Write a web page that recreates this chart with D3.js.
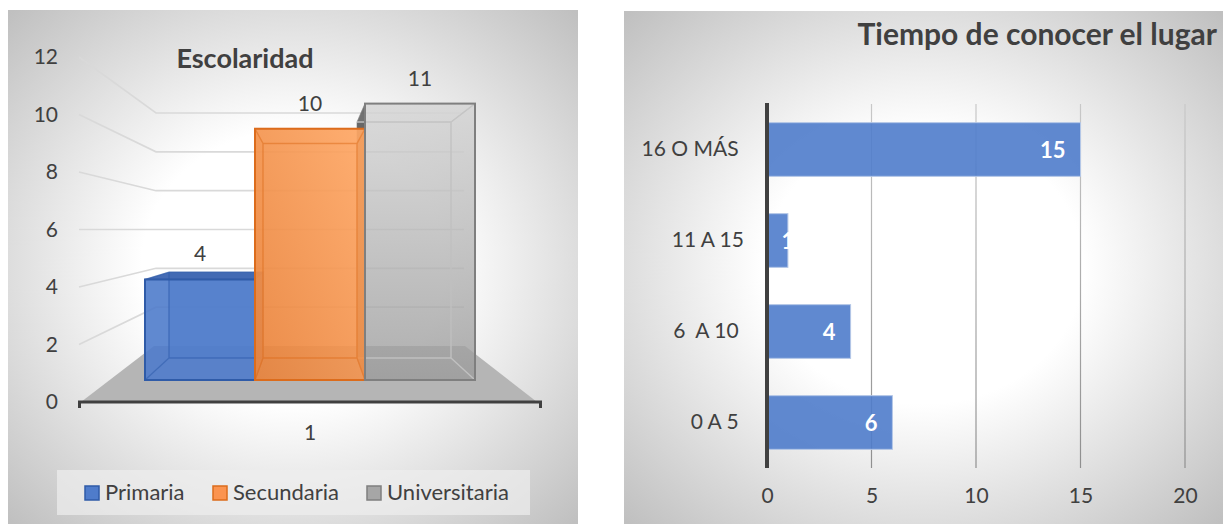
<!DOCTYPE html>
<html>
<head>
<meta charset="utf-8">
<script src="https://cdn.jsdelivr.net/npm/d3@7"></script>
<style>
  html, body { margin: 0; padding: 0; background: #fff; }
  svg { display: block; font-family: Lato, "Open Sans", sans-serif; }
  text { fill: #404040; white-space: pre; }
</style>
</head>
<body>
<div id="chart"></div>
<script>
// datos grafica izquierda
const schoolSeries = ["Primaria", "Secundaria", "Universitaria"];
const schoolValues = [4, 10, 11];
const schoolTicks = [0, 2, 4, 6, 8, 10, 12];
const schoolCategory = "1";

// datos grafica derecha (los espacios finales son del original)
const timeCategories = ["16 O MÁS ", "11 A 15", "6  A 10 ", "0 A 5 "];
const timeValues = [15, 1, 4, 6];
const timeTicks = [0, 5, 10, 15, 20];

const seriesFill = ["#4f7ccb", "#fb9450", "#a6a6a6"];
const seriesStroke = ["#2f5ba8", "#dc6c1c", "#7f7f7f"];
const frontFill = ["#4f7ccb", "url(#orangeFront)", "url(#grayFront)"];
// opacidad de cada cara: fondo, base, lados, tapa, frente
const faceOpacity = [
    { back: 0.75, base: 0.5, side: 0.5, top: 0.95, front: 0.8 },
    { back: 0.6, base: 0.5, side: 0.7, top: 0.6, front: 0.8 },
    { back: 0.2, base: 0.15, side: 0.18, top: 0.15, front: 0.75 }
];

const svg = d3.select("#chart").append("svg")
    .attr("width", 1223)
    .attr("height", 524);

const defs = svg.append("defs");

function panelGradient(id) {
    const g = defs.append("radialGradient").attr("id", id)
        .attr("cx", "50%").attr("cy", "50%").attr("r", "70%");
    g.append("stop").attr("offset", "0%").attr("stop-color", "#ffffff");
    g.append("stop").attr("offset", "38%").attr("stop-color", "#ffffff");
    g.append("stop").attr("offset", "100%").attr("stop-color", "#c0c0c0");
}
panelGradient("panelLeft");
panelGradient("panelRight");

const orangeFront = defs.append("linearGradient").attr("id", "orangeFront")
    .attr("x1", "100%").attr("y1", "0%").attr("x2", "0%").attr("y2", "100%");
orangeFront.append("stop").attr("offset", "0%").attr("stop-color", "#ffaa68");
orangeFront.append("stop").attr("offset", "100%").attr("stop-color", "#e67f36");

const grayFront = defs.append("linearGradient").attr("id", "grayFront")
    .attr("x1", "0%").attr("y1", "0%").attr("x2", "0%").attr("y2", "100%");
grayFront.append("stop").attr("offset", "0%").attr("stop-color", "#d6d6d6");
grayFront.append("stop").attr("offset", "100%").attr("stop-color", "#9a9a9a");

drawSchooling();
drawTime();

function axisText(a) {
    a.select(".domain").remove();
    a.selectAll("text")
        .attr("font-size", 21)
        .attr("font-family", "Lato")
        .attr("fill", "#404040");
}

function drawSchooling() {
    const g = svg.append("g");

    g.append("rect")
        .attr("x", 8).attr("y", 10)
        .attr("width", 570).attr("height", 514)
        .attr("fill", "url(#panelLeft)");

    // escalas: plano frontal y plano del fondo (perspectiva)
    const wallFront = d3.scaleLinear().domain([0, 12]).range([402, 57]);
    const wallBack = d3.scaleLinear().domain([0, 12]).range([346, 113]);
    const barFront = d3.scaleLinear().domain([0, 11]).range([380, 103.6]);
    const barBack = d3.scaleLinear().domain([0, 11]).range([358, 122]);
    const xFront = d3.scaleBand().domain(schoolSeries).range([145, 475]);
    const xBack = d3.scaleBand().domain(schoolSeries).range([169, 451]);

    // piso
    g.append("polygon")
        .attr("points", [[81, wallFront(0)], [154, wallBack(0)], [465, wallBack(0)], [537, wallFront(0)]].join(" "))
        .attr("fill", "#b5b5b5");

    // lineas de pared
    g.append("g").selectAll("path")
        .data(schoolTicks.filter(d => d > 0))
        .join("path")
        .attr("d", d => `M79,${wallFront(d)}L156,${wallBack(d)}L464,${wallBack(d)}`)
        .attr("fill", "none")
        .attr("stroke", "#d9d9d9")
        .attr("stroke-width", 1.6);

    // eje y
    g.append("g")
        .attr("transform", "translate(79,0)")
        .call(d3.axisLeft(wallFront).tickValues(schoolTicks).tickSize(0).tickPadding(21))
        .call(axisText);

    // barras 3d: la gris va antes que la naranja, para que solo asome su lado oscuro
    [0, 2, 1].forEach(i => {
        const name = schoolSeries[i];
        const v = schoolValues[i];
        const o = faceOpacity[i];
        const fx0 = xFront(name), fx1 = fx0 + xFront.bandwidth();
        const bx0 = xBack(name), bx1 = bx0 + xBack.bandwidth();
        const ft = barFront(v), fb = barFront(0);
        const bt = barBack(v), bb = barBack(0);
        const faces = [
            { pts: [[bx0, bt], [bx1, bt], [bx1, bb], [bx0, bb]], o: o.back, c: seriesFill[i] },
            { pts: [[fx0, fb], [bx0, bb], [bx1, bb], [fx1, fb]], o: o.base, c: seriesFill[i] },
            { pts: [[fx0, ft], [bx0, bt], [bx0, bb], [fx0, fb]], o: i === 2 ? 0.9 : o.side, c: i === 2 ? "#595959" : seriesFill[i] },
            { pts: [[fx1, ft], [bx1, bt], [bx1, bb], [fx1, fb]], o: o.side, c: i === 1 ? "#e57f36" : seriesFill[i] },
            { pts: [[fx0, ft], [bx0, bt], [bx1, bt], [fx1, ft]], o: o.top, c: i === 0 ? "#3f67b2" : seriesFill[i] },
            { pts: [[fx0, ft], [fx1, ft], [fx1, fb], [fx0, fb]], o: o.front, c: frontFill[i] }
        ];
        const bar = g.append("g");
        bar.selectAll("polygon")
            .data(faces)
            .join("polygon")
            .attr("points", d => d.pts.join(" "))
            .attr("fill", d => d.c)
            .attr("fill-opacity", d => d.o)
            .attr("stroke", seriesStroke[i])
            .attr("stroke-opacity", 0.35)
            .attr("stroke-width", 1);

        // aristas interiores, visibles a traves del frente (en la gris, solo el lado derecho)
        const leftEdges = `M${fx0},${ft}L${bx0},${bt}M${bx0},${bt}V${bb}M${fx0},${fb}L${bx0},${bb}`;
        const otherEdges = `M${bx0},${bt}H${bx1}L${fx1},${ft}M${bx1},${bt}V${bb}H${bx0}M${fx1},${fb}L${bx1},${bb}`;
        bar.append("path")
            .attr("d", i === 2 ? otherEdges : leftEdges + otherEdges)
            .attr("fill", "none")
            .attr("stroke", i === 2 ? "#c4c4c4" : seriesStroke[i])
            .attr("stroke-opacity", i === 2 ? 0.9 : 0.45)
            .attr("stroke-width", 1.4);
    });

    // contorno frontal de cada barra
    g.append("g").selectAll("rect")
        .data(schoolValues)
        .join("rect")
        .attr("x", (d, i) => xFront(schoolSeries[i]))
        .attr("y", d => barFront(d))
        .attr("width", xFront.bandwidth())
        .attr("height", d => barFront(0) - barFront(d))
        .attr("fill", "none")
        .attr("stroke", (d, i) => seriesStroke[i])
        .attr("stroke-width", 2);

    // etiquetas de datos
    g.append("g").selectAll("text")
        .data(schoolValues)
        .join("text")
        .attr("x", (d, i) => xFront(schoolSeries[i]) + xFront.bandwidth() / 2)
        .attr("y", d => barFront(d) - 18)
        .attr("text-anchor", "middle")
        .attr("font-size", 21)
        .text(d => d);

    // eje x
    g.append("path")
        .attr("d", `M79.5,408V${wallFront(0)}H540.5V408`)
        .attr("fill", "none")
        .attr("stroke", "#404040")
        .attr("stroke-width", 3);
    g.append("text")
        .attr("x", 310).attr("y", 440)
        .attr("text-anchor", "middle")
        .attr("font-size", 21)
        .text(schoolCategory);

    g.append("text")
        .attr("x", 245).attr("y", 68)
        .attr("text-anchor", "middle")
        .attr("font-size", 27)
        .attr("font-weight", "bold")
        .text("Escolaridad");

    // leyenda
    g.append("rect")
        .attr("x", 57).attr("y", 470)
        .attr("width", 473).attr("height", 45)
        .attr("fill", "#eeeeee")
        .attr("fill-opacity", 0.7);
    const legendX = d3.scaleOrdinal().domain(schoolSeries).range([85, 213, 367]);
    const item = g.append("g").selectAll("g")
        .data(schoolSeries)
        .join("g")
        .attr("transform", d => `translate(${legendX(d)},486)`);
    item.append("rect")
        .attr("width", 14).attr("height", 14)
        .attr("fill", (d, i) => seriesFill[i])
        .attr("stroke", (d, i) => seriesStroke[i])
        .attr("stroke-width", 1.5);
    item.append("text")
        .attr("x", 20).attr("y", 14)
        .attr("font-size", 22)
        .text(d => d);
}

function drawTime() {
    const g = svg.append("g");

    g.append("rect")
        .attr("x", 624).attr("y", 11)
        .attr("width", 599).attr("height", 513)
        .attr("fill", "url(#panelRight)");

    const x = d3.scaleLinear().domain([0, 20]).range([767, 1185]);
    const y = d3.scaleBand().domain(timeCategories).range([104, 468])
        .paddingInner(0.41).paddingOuter(0.205);

    const grid = defs.append("linearGradient").attr("id", "gridFade")
        .attr("gradientUnits", "userSpaceOnUse")
        .attr("x1", 0).attr("y1", 104).attr("x2", 0).attr("y2", 468);
    grid.append("stop").attr("offset", "0%").attr("stop-color", "#c8c8c8");
    grid.append("stop").attr("offset", "100%").attr("stop-color", "#8f8f8f");

    // rejilla
    g.append("g").selectAll("line")
        .data(timeTicks.filter(d => d > 0))
        .join("line")
        .attr("x1", d => x(d)).attr("x2", d => x(d))
        .attr("y1", 104).attr("y2", 468)
        .attr("stroke", "url(#gridFade)")
        .attr("stroke-width", 1.2);

    // barras
    g.append("g").selectAll("rect")
        .data(timeValues)
        .join("rect")
        .attr("x", x(0))
        .attr("y", (d, i) => y(timeCategories[i]))
        .attr("width", d => x(d) - x(0))
        .attr("height", y.bandwidth())
        .attr("fill", "#4f7ccb")
        .attr("fill-opacity", 0.9)
        .attr("stroke", "#b4c7e7")
        .attr("stroke-width", 1);

    // etiquetas dentro de la barra
    g.append("g").selectAll("text")
        .data(timeValues)
        .join("text")
        .attr("x", d => (x(d) - x(0) < 30 ? x(d) : x(d) - 15))
        .attr("y", (d, i) => y(timeCategories[i]) + y.bandwidth() / 2 + 8)
        .attr("text-anchor", d => (x(d) - x(0) < 30 ? "middle" : "end"))
        .attr("font-size", 22)
        .attr("font-weight", "bold")
        .style("fill", "#ffffff")
        .text(d => d);

    // eje categorias
    g.append("g")
        .attr("transform", "translate(767,0)")
        .call(d3.axisLeft(y).tickSize(0).tickPadding(23))
        .call(axisText);

    g.append("line")
        .attr("x1", 767).attr("x2", 767)
        .attr("y1", 103).attr("y2", 468)
        .attr("stroke", "#404040")
        .attr("stroke-width", 4);

    // eje valores
    g.append("g")
        .attr("transform", "translate(0,468)")
        .call(d3.axisBottom(x).tickValues(timeTicks).tickSize(0).tickPadding(20))
        .call(axisText);

    g.append("text")
        .attr("x", 1217).attr("y", 45)
        .attr("text-anchor", "end")
        .attr("font-size", 30)
        .attr("font-weight", "bold")
        .text("Tiempo de conocer el lugar");
}
</script>
</body>
</html>
